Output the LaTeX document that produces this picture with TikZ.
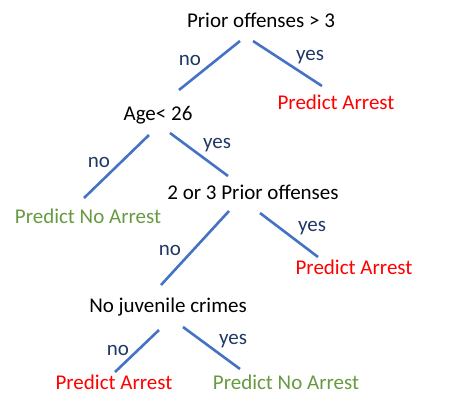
\documentclass[tikz,border=0pt]{standalone}
\usepackage{fontspec}
\setmainfont{Carlito}
\definecolor{branchblue}{RGB}{68,114,196}
\definecolor{labelnavy}{RGB}{32,56,100}
\definecolor{arrestred}{RGB}{255,0,0}
\definecolor{freegreen}{RGB}{104,154,66}
\tikzset{
	test/.style={font=\fontsize{21}{25}\selectfont, text=black, inner sep=0pt},
	arrest/.style={test, text=arrestred},
	noarrest/.style={test, text=freegreen},
	answer/.style={font=\fontsize{21}{25}\selectfont, text=labelnavy, inner sep=0pt},
	branch/.style={draw=branchblue, line width=2.6pt}
}
\begin{document}
\begin{tikzpicture}[x=1pt,y=-1pt]
					\useasboundingbox (0,0) rectangle (457,410);
					% questions
					\path (261,20) node[test] (q1) {Prior offenses > 3};
					\path (158,115) node[test] (q2) {Age< 26};
					\path (253,192) node[test] (q3) {2 or 3 Prior offenses};
					\path (168,307) node[test] (q4) {No juvenile crimes};
					
					% predictions
					\path (336,102) node[arrest] (p1) {Predict Arrest};
					\path (88,216) node[noarrest] (p2) {Predict No Arrest};
					\path (354,267) node[arrest] (p3) {Predict Arrest};
					\path (114,382) node[arrest] (p4) {Predict Arrest};
					\path (286,382) node[noarrest] (p5) {Predict No Arrest};
					
					% branch ends
					\coordinate (b1a) at (240,41);  \coordinate (b1b) at (179,90);
					\coordinate (b2a) at (253,41);  \coordinate (b2b) at (322,86);
					\coordinate (b3a) at (149,135); \coordinate (b3b) at (84,198);
					\coordinate (b4a) at (170,133); \coordinate (b4b) at (228,176);
					\coordinate (b5a) at (229,211); \coordinate (b5b) at (161,285);
					\coordinate (b6a) at (260,213); \coordinate (b6b) at (318,257);
					\coordinate (b7a) at (159,330); \coordinate (b7b) at (115,372);
					\coordinate (b8a) at (183,327); \coordinate (b8b) at (240,369);
					
					\draw[branch] (b1a) -- (b1b);
					\draw[branch] (b2a) -- (b2b);
					\draw[branch] (b3a) -- (b3b);
					\draw[branch] (b4a) -- (b4b);
					\draw[branch] (b5a) -- (b5b);
					\draw[branch] (b6a) -- (b6b);
					\draw[branch] (b7a) -- (b7b);
					\draw[branch] (b8a) -- (b8b);
					
					% yes / no
					\path (190,60) node[answer] (a1) {no};
					\path (310,57) node[answer] (a2) {yes};
					\path (99,162) node[answer] (a3) {no};
					\path (217,145) node[answer] (a4) {yes};
					\path (170,250) node[answer] (a5) {no};
					\path (312,228) node[answer] (a6) {yes};
					\path (118,350) node[answer] (a7) {no};
					\path (233,341) node[answer] (a8) {yes};
\end{tikzpicture}
\end{document}
